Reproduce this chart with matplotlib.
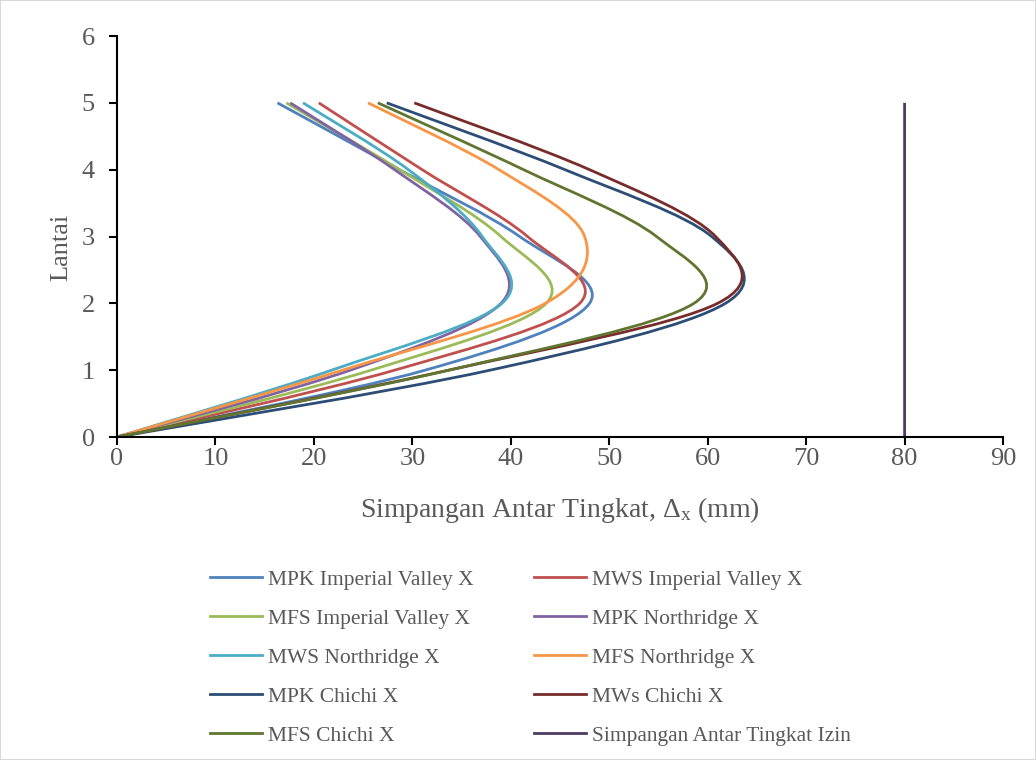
import matplotlib
matplotlib.use("Agg")
import matplotlib.pyplot as plt
from matplotlib.path import Path
from matplotlib.patches import PathPatch, Rectangle
from matplotlib.lines import Line2D

# floors (Lantai) and story drift per series (mm)
floors = [0, 1, 2, 3, 4, 5]
mpk_iv = [0, 31.3, 48.0, 40.9, 28.7, 16.3]
mws_iv = [0, 28.2, 47.0, 41.7, 31.0, 20.5]
mfs_iv = [0, 25.8, 43.6, 39.0, 28.7, 17.2]
mpk_nr = [0, 23.7, 39.0, 36.9, 28.2, 17.6]
mws_nr = [0, 21.8, 39.1, 37.1, 29.6, 18.9]
mfs_nr = [0, 22.9, 43.5, 47.5, 38.8, 25.5]
mpk_cc = [0, 37.9, 61.8, 60.4, 45.5, 27.4]
mws_cc = [0, 33.7, 61.0, 60.8, 48.0, 30.2]
mfs_cc = [0, 33.7, 58.6, 54.8, 41.3, 26.5]
izin = [80, 80, 80, 80, 80, 80]

labels = ["MPK Imperial Valley X", "MWS Imperial Valley X", "MFS Imperial Valley X",
          "MPK Northridge X", "MWS Northridge X", "MFS Northridge X",
          "MPK Chichi X", "MWs Chichi X", "MFS Chichi X", "Simpangan Antar Tingkat Izin"]
series = [mpk_iv, mws_iv, mfs_iv, mpk_nr, mws_nr, mfs_nr, mpk_cc, mws_cc, mfs_cc, izin]
colors = ["#4F81BD", "#C0504D", "#9BBB59", "#8064A2", "#4BACC6", "#F79646",
          "#2C4D75", "#772C2A", "#5F7530", "#4D3B62"]

plt.rcParams['font.family'] = ['Liberation Serif', 'DejaVu Serif']
plt.rcParams['mathtext.fontset'] = 'custom'
plt.rcParams['mathtext.rm'] = 'Liberation Serif'
plt.rcParams['mathtext.it'] = 'Liberation Serif:italic'
grey = "#595959"


def smooth_path(xs, ys):
    """Excel-like smoothed line: cubic bezier through the points"""
    pts = list(zip(xs, ys))
    n = len(pts)
    verts = [pts[0]]
    codes = [Path.MOVETO]
    for i in range(n - 1):
        p0 = pts[max(i - 1, 0)]
        p1 = pts[i]
        p2 = pts[i + 1]
        p3 = pts[min(i + 2, n - 1)]
        c1 = (p1[0] + (p2[0] - p0[0]) / 6, p1[1] + (p2[1] - p0[1]) / 6)
        c2 = (p2[0] - (p3[0] - p1[0]) / 6, p2[1] - (p3[1] - p1[1]) / 6)
        verts += [c1, c2, p2]
        codes += [Path.CURVE4] * 3
    return Path(verts, codes)


fig = plt.figure(figsize=(10.36, 7.6), dpi=100)
ax = fig.add_axes([0.1129, 0.425, 0.8553, 0.5276])

handles = []
for vals, col, lab in zip(series, colors, labels):
    ax.add_patch(PathPatch(smooth_path(vals, floors), fill=False, edgecolor=col, lw=2.0))
    handles.append(Line2D([], [], color=col, lw=2.0, label=lab))

ax.set_xlim(0, 90)
ax.set_ylim(0, 6)
ax.set_xticks(range(0, 91, 10))
ax.set_yticks(range(0, 7))
for s in ["top", "right"]:
    ax.spines[s].set_visible(False)
for s in ["left", "bottom"]:
    ax.spines[s].set_linewidth(1.5)
    ax.spines[s].set_color("black")
ax.tick_params(axis="both", direction="out", length=6, width=1.5, colors="black",
               labelcolor=grey, labelsize=19)
ax.tick_params(axis="x", pad=2)
ax.tick_params(axis="y", pad=10)
ax.set_xlabel("Simpangan Antar Tingkat, $\\mathrm{\\Delta_x}$ (mm)", fontsize=20, color=grey)
ax.set_ylabel("Lantai", fontsize=19, color=grey)
ax.xaxis.set_label_coords(0.5, -0.145)
ax.yaxis.set_label_coords(-0.05, 0.474)

# legend filled row by row like Excel
order = [0, 2, 4, 6, 8, 1, 3, 5, 7, 9]
leg = fig.legend([handles[i] for i in order], [labels[i] for i in order], ncol=2,
                 loc="upper left", bbox_to_anchor=(0.184, 0.276), frameon=False,
                 fontsize=15.5, handlelength=2.4, handletextpad=0.3, columnspacing=2.8,
                 labelspacing=0.88)
for t in leg.get_texts():
    t.set_color(grey)

fig.patches.append(Rectangle((0, 0), 1, 1, transform=fig.transFigure, fill=False,
                             edgecolor="#D9D9D9", lw=1.5))

fig.savefig("out.png", dpi=100)
